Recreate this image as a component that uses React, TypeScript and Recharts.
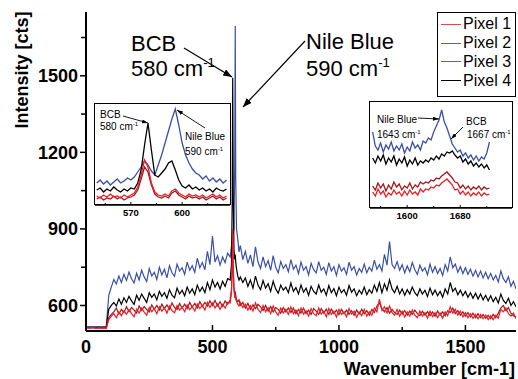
import React from 'react';
import { LineChart, Line, XAxis, YAxis, Legend } from 'recharts';

const FONT = '"Liberation Sans", Arial, Helvetica, sans-serif';

// ---- main spectrum (wavenumber in cm-1, intensity in cts) ----
const wavenumbers = [
  0, 10, 20, 30, 40, 50, 60, 70, 80,
  90, 100,
  110, 120, 130, 140, 150, 160, 170, 180, 190, 200,
  210, 220, 230, 240, 250, 260, 270, 280, 290, 300,
  310, 320, 330, 340, 350, 360, 370, 380, 390, 400,
  410, 420, 430, 440, 450, 460, 470, 480, 490, 500,
  510, 520, 530, 540, 550, 560,
  570, 575, 578, 580, 582, 585, 588, 590, 592, 595, 600, 605, 610,
  620, 630, 640, 650, 660, 670, 680, 690, 700,
  710, 720, 730, 740, 750, 760, 770, 780, 790, 800,
  810, 820, 830, 840, 850, 860, 870, 880, 890, 900,
  910, 920, 930, 940, 950, 960, 970, 980, 990, 1000,
  1010, 1020, 1030, 1040, 1050, 1060, 1070, 1080, 1090, 1100,
  1110, 1120, 1130, 1140, 1150, 1160, 1170, 1180, 1190, 1200,
  1210, 1220, 1230, 1240, 1250, 1260, 1270, 1280, 1290, 1300,
  1310, 1320, 1330, 1340, 1350, 1360, 1370, 1380, 1390, 1400,
  1410, 1420, 1430, 1440, 1450, 1460, 1470, 1480, 1490, 1500,
  1510, 1520, 1530, 1540, 1550, 1560, 1570, 1580, 1590, 1600,
  1610, 1620, 1630, 1640, 1650, 1660, 1670, 1680, 1690, 1700,
];

const pixel1 = [
  512, 511, 513, 512, 510, 512, 511, 512, 510,
  545, 558,
  568, 552, 575, 560, 580, 565, 584, 568, 556, 586,
  570, 590, 574, 562, 592, 576, 588, 568, 595, 578,
  590, 570, 598, 580, 572, 600, 582, 594, 575, 602,
  584, 596, 578, 606, 588, 600, 582, 612, 592, 610,
  590, 606, 585, 604, 590, 612,
  610, 650, 760, 900, 760, 660, 630, 640, 625, 615, 605, 598, 612,
  592, 605, 582, 600, 578, 610, 585, 572, 600,
  575, 592, 568, 598, 575, 562, 590, 570, 585, 565,
  595, 568, 582, 560, 590, 566, 580, 558, 588, 568,
  560, 590, 566, 578, 556, 588, 565, 578, 555, 585,
  565, 575, 555, 588, 566, 578, 554, 575, 560, 585,
  558, 575, 562, 590, 575, 625, 580, 595, 570, 598,
  572, 562, 585, 558, 578, 555, 575, 558, 582, 562,
  552, 578, 558, 572, 550, 578, 556, 572, 552, 570,
  550, 575, 560, 595, 570, 585, 562, 578, 555, 572,
  552, 568, 550, 565, 548, 565, 548, 562, 545, 560,
  545, 562, 550, 585, 575, 590, 568, 558, 570, 548,
];

const pixel2 = [
  516, 515, 517, 515, 516, 514, 516, 515, 517,
  640, 672,
  702, 684, 715, 690, 722, 698, 731, 705, 688, 726,
  700, 738, 712, 694, 745, 716, 730, 702, 750, 720,
  742, 708, 756, 728, 714, 762, 735, 748, 722, 770,
  738, 756, 730, 785, 748, 768, 740, 812, 760, 872,
  770, 795, 758, 790, 768, 805,
  790, 830, 860, 900, 880, 900, 1150, 1695, 1100, 900, 860, 810, 835,
  780, 812, 765, 798, 752, 830, 770, 745, 790,
  752, 776, 738, 795, 750, 728, 772, 745, 760, 732,
  780, 742, 758, 725, 770, 738, 752, 720, 765, 740,
  728, 772, 738, 750, 722, 768, 735, 752, 718, 760,
  735, 748, 722, 770, 738, 752, 720, 745, 730, 762,
  728, 750, 735, 778, 742, 760, 735, 800, 758, 850,
  760, 745, 772, 738, 760, 728, 755, 732, 768, 740,
  722, 758, 735, 748, 720, 762, 730, 752, 725, 745,
  718, 760, 735, 790, 748, 762, 730, 752, 725, 748,
  722, 742, 715, 738, 712, 735, 708, 730, 705, 725,
  700, 718, 692, 735, 705, 690, 712, 675, 695, 665,
];

const pixel3 = [
  513, 512, 512, 514, 511, 513, 512, 511, 513,
  552, 565,
  575, 590, 566, 585, 572, 595, 575, 592, 582, 570,
  598, 580, 596, 584, 575, 602, 585, 600, 582, 605,
  588, 602, 585, 610, 592, 584, 608, 590, 605, 588,
  612, 594, 608, 590, 615, 596, 612, 598, 618, 600,
  620, 598, 615, 596, 618, 605,
  622, 660, 740, 860, 740, 670, 645, 655, 640, 625, 615, 622, 600,
  612, 590, 608, 585, 602, 588, 605, 595, 580,
  600, 578, 596, 575, 592, 585, 570, 592, 575, 590,
  572, 590, 568, 585, 570, 590, 568, 582, 565, 588,
  578, 565, 588, 570, 585, 565, 586, 568, 582, 564,
  585, 568, 582, 565, 580, 562, 582, 566, 585, 568,
  580, 562, 585, 572, 598, 610, 588, 575, 592, 570,
  585, 572, 565, 582, 566, 580, 562, 578, 565, 582,
  568, 560, 578, 562, 576, 560, 575, 558, 578, 562,
  575, 560, 580, 572, 590, 568, 580, 562, 575, 558,
  572, 555, 570, 552, 568, 552, 565, 550, 562, 548,
  565, 552, 570, 590, 600, 580, 592, 570, 560, 555,
];

const pixel4 = [
  514, 515, 513, 515, 514, 516, 514, 515, 514,
  585, 600,
  612, 598, 625, 605, 630, 612, 636, 618, 604, 640,
  620, 645, 628, 612, 650, 632, 645, 622, 655, 636,
  650, 628, 662, 640, 630, 668, 645, 660, 638, 672,
  648, 665, 642, 680, 655, 672, 650, 690, 662, 700,
  672, 690, 665, 695, 675, 705,
  700, 760, 1000, 1492, 1050, 820, 780, 800, 770, 745, 715, 700, 712,
  690, 708, 675, 700, 668, 715, 680, 662, 698,
  668, 685, 655, 695, 665, 648, 680, 660, 672, 650,
  688, 655, 670, 645, 680, 652, 668, 640, 675, 655,
  645, 680, 652, 665, 640, 678, 650, 666, 638, 672,
  650, 662, 640, 678, 652, 665, 638, 660, 645, 672,
  642, 662, 648, 680, 655, 690, 650, 685, 660, 700,
  665, 650, 675, 645, 665, 640, 662, 645, 672, 650,
  638, 665, 645, 660, 635, 668, 642, 660, 638, 655,
  632, 665, 645, 690, 655, 668, 642, 660, 638, 655,
  632, 650, 628, 648, 625, 645, 622, 640, 618, 638,
  615, 632, 610, 645, 620, 608, 628, 600, 615, 595,
];

// ---- inset: 550-626 cm-1 region (arbitrary offset units) ----
const bcbWavenumbers = [
  550, 552, 554, 556, 558, 560, 562, 564, 566, 568,
  570, 572, 574, 576, 578, 580, 582, 584, 586, 588,
  590, 592, 594, 596, 598, 600, 602, 604, 606, 608,
  610, 612, 614, 616, 618, 620, 622, 624, 626,
];
const bcbPixel1 = [
  9, 7, 10, 8, 11, 8, 9, 7, 10, 8,
  10, 12, 18, 30, 45, 38, 22, 13, 10, 9,
  11, 9, 14, 16, 12, 10, 8, 11, 9, 10,
  8, 10, 7, 9, 11, 8, 10, 7, 9,
];
const bcbPixel2 = [
  22, 25, 21, 24, 20, 23, 26, 22, 24, 27,
  25, 28, 33, 38, 44, 40, 34, 30, 40, 50,
  62, 74, 86, 96, 80, 62, 50, 42, 36, 32,
  30, 26, 29, 24, 27, 23, 26, 22, 25,
];
const bcbPixel3 = [
  6, 8, 5, 7, 6, 9, 6, 8, 5, 7,
  8, 10, 15, 26, 38, 33, 20, 11, 8, 7,
  9, 7, 12, 14, 10, 8, 6, 9, 7, 8,
  6, 8, 5, 7, 9, 6, 8, 5, 7,
];
const bcbPixel4 = [
  15, 17, 13, 16, 14, 18, 15, 13, 16, 14,
  17, 16, 22, 35, 60, 82, 55, 30, 28, 32,
  36, 42, 44, 35, 25, 19, 17, 20, 16, 18,
  15, 17, 14, 16, 13, 17, 15, 14, 16,
];

// ---- inset: 1548-1724 cm-1 region ----
const nbWavenumbers = [
  1548, 1552, 1556, 1560, 1564, 1568, 1572, 1576, 1580, 1584,
  1588, 1592, 1596, 1600, 1604, 1608, 1612, 1616, 1620, 1624,
  1628, 1632, 1636, 1640, 1644, 1648, 1652, 1656, 1660, 1664,
  1668, 1672, 1676, 1680, 1684, 1688, 1692, 1696, 1700, 1704,
  1708, 1712, 1716, 1720, 1724,
];
const nbPixel1 = [
  16, 12, 19, 14, 17, 11, 15, 13, 18, 14,
  16, 12, 17, 13, 18, 14, 16, 13, 19, 16,
  19, 18, 21, 20, 23, 22, 25, 27, 29, 26,
  23, 18, 19, 14, 17, 13, 16, 12, 15, 13,
  16, 12, 15, 13, 14,
];
const nbPixel2 = [
  76, 62, 58, 65, 56, 63, 59, 66, 57, 62,
  58, 64, 55, 61, 57, 66, 60, 63, 58, 67,
  65, 70, 68, 76, 82, 88, 98, 86, 80, 72,
  64, 60, 56, 58, 52, 55, 50, 53, 48, 52,
  47, 51, 49, 55, 66,
];
const nbPixel3 = [
  22, 18, 25, 20, 24, 17, 23, 19, 26, 21,
  24, 18, 22, 20, 25, 19, 23, 21, 26, 24,
  26, 25, 28, 27, 30, 29, 32, 34, 36, 33,
  30, 26, 25, 20, 23, 19, 22, 18, 21, 19,
  22, 18, 21, 19, 20,
];
const nbPixel4 = [
  50, 45, 52, 47, 53, 44, 50, 46, 52, 43,
  49, 45, 51, 42, 48, 44, 50, 43, 47, 45,
  48, 46, 50, 48, 52, 49, 54, 52, 56, 55,
  57, 53, 50, 52, 46, 49, 44, 47, 42, 45,
  41, 44, 40, 43, 38,
];

const seriesKeys = ['p1', 'p2', 'p3', 'p4'];
const seriesNames = ['Pixel 1', 'Pixel 2', 'Pixel 3', 'Pixel 4'];
const seriesColors = ['#ec1c24', '#3b4fa6', '#a3171c', '#000000'];
const legendColors = ['#e04848', '#5560b0', '#c84040', '#000000'];
const drawOrder = [1, 3, 2, 0];

const mainTicksX = [0, 250, 500, 750, 1000, 1250, 1500];
const mainTicksY = [600, 750, 900, 1050, 1200, 1350, 1500, 1650];
const bcbTicks = [555, 570, 585, 600, 615];
const nbTicks = [1560, 1600, 1640, 1680, 1720];

const mainData = wavenumbers.map((wn, i) => ({ wn, p1: pixel1[i], p2: pixel2[i], p3: pixel3[i], p4: pixel4[i] }));
const bcbData = bcbWavenumbers.map((wn, i) => ({ wn, p1: bcbPixel1[i], p2: bcbPixel2[i], p3: bcbPixel3[i], p4: bcbPixel4[i] }));
const nbData = nbWavenumbers.map((wn, i) => ({ wn, p1: nbPixel1[i], p2: nbPixel2[i], p3: nbPixel3[i], p4: nbPixel4[i] }));

const frame = { stroke: '#000', strokeWidth: 2 };

const MainXTick = (props: any) => {
  const { x, y, payload } = props;
  const major = payload.value % 500 === 0;
  return (
    <g>
      <line x1={x} x2={x} y1={y} y2={y - (major ? 6 : 4)} stroke="#000" strokeWidth={1.5} />
      {major && (
        <text x={x} y={y + 22} textAnchor="middle" fontSize={18} fontWeight="bold" fontFamily={FONT} fill="#000">
          {payload.value}
        </text>
      )}
    </g>
  );
};

const MainYTick = (props: any) => {
  const { x, y, payload } = props;
  const major = payload.value % 300 === 0;
  return (
    <g>
      <line x1={x - (major ? 6 : 5)} x2={x} y1={y} y2={y} stroke="#000" strokeWidth={1.5} />
      {major && (
        <text x={x - 8} y={y + 6.5} textAnchor="end" fontSize={18} fontWeight="bold" fontFamily={FONT} fill="#000">
          {payload.value}
        </text>
      )}
    </g>
  );
};

const makeInsetTick = (labelled: number[]) => (props: any) => {
  const { x, y, payload } = props;
  const major = labelled.includes(payload.value);
  return (
    <g>
      <line x1={x} x2={x} y1={y} y2={y - (major ? 3 : 2)} stroke="#000" strokeWidth={1} />
      {major && (
        <text x={x} y={y + 11} textAnchor="middle" fontSize={9.5} fontWeight="bold" fontFamily={FONT} fill="#000">
          {payload.value}
        </text>
      )}
    </g>
  );
};

const LegendBox = () => (
  <div
    style={{
      width: 79,
      height: 85,
      boxSizing: 'border-box',
      border: '1.5px solid #000',
      background: '#fff',
      padding: '2px 0 0 3px',
      fontFamily: FONT,
      fontSize: 16,
      color: '#000',
    }}
  >
    {seriesNames.map((n, i) => (
      <div key={n} style={{ display: 'flex', alignItems: 'center', height: 18.8, whiteSpace: 'nowrap' }}>
        <span style={{ display: 'inline-block', width: 20, borderTop: `1.5px solid ${legendColors[i]}`, marginRight: 2 }} />
        <span style={{ lineHeight: '16px' }}>{n}</span>
      </div>
    ))}
  </div>
);

type InsetProps = {
  data: any[];
  left: number;
  top: number;
  width: number;
  height: number;
  xDomain: [number, number];
  yDomain: [number, number];
  ticks: number[];
  labelled: number[];
};

const Inset = ({ data, left, top, width, height, xDomain, yDomain, ticks, labelled }: InsetProps) => {
  const box = { stroke: '#000', strokeWidth: 1.5 };
  return (
    <div style={{ position: 'absolute', left, top, width, height, background: '#fff' }}>
      <LineChart width={width} height={height} data={data} margin={{ top: 1, right: 1, left: 1, bottom: 0 }}>
        <XAxis
          dataKey="wn"
          type="number"
          domain={xDomain}
          ticks={ticks}
          interval={0}
          tickSize={0}
          tickMargin={0}
          tickLine={false}
          tick={makeInsetTick(labelled)}
          height={16}
          axisLine={box}
          allowDataOverflow
        />
        <YAxis type="number" domain={yDomain} width={0} tick={false} tickLine={false} axisLine={false} allowDataOverflow />
        {drawOrder.map((i) => (
          <Line
            key={seriesKeys[i]}
            dataKey={seriesKeys[i]}
            name={seriesNames[i]}
            stroke={seriesColors[i]}
            strokeWidth={1.3}
            dot={false}
            isAnimationActive={false}
          />
        ))}
      </LineChart>
      {/* inset frame around the plotting area */}
      <div
        style={{
          position: 'absolute',
          left: 0.25,
          top: 0.25,
          width: width - 0.5,
          height: height - 16.5,
          boxSizing: 'border-box',
          border: '1.5px solid #000',
          pointerEvents: 'none',
        }}
      />
    </div>
  );
};

const Wn = ({ x, y, value, size }: { x: number; y: number; value: string; size: number }) => (
  <text x={x} y={y} fontSize={size} fontFamily={FONT} fill="#000">
    {value} cm
    <tspan fontSize={size * 0.6} dy={-size * 0.4}>-1</tspan>
  </text>
);

const Label = ({ x, y, value, size }: { x: number; y: number; value: string; size: number }) => (
  <text x={x} y={y} fontSize={size} fontFamily={FONT} fill="#000">
    {value}
  </text>
);

const App: React.FC = () => {
  return (
    <div style={{ position: 'absolute', left: 0, top: 0, width: 518, height: 379, background: '#fff' }}>
      <LineChart width={518} height={379} data={mainData} margin={{ top: 12, right: 2, bottom: 0, left: 0 }}>
        <XAxis
          dataKey="wn"
          type="number"
          domain={[0, 1700]}
          ticks={mainTicksX}
          interval={0}
          tickSize={0}
          tickMargin={0}
          tickLine={false}
          tick={(p: any) => <MainXTick {...p} />}
          height={48}
          axisLine={frame}
          allowDataOverflow
        />
        <XAxis xAxisId="top" orientation="top" type="number" domain={[0, 1700]} height={0} tick={false} tickLine={false} axisLine={frame} />
        <YAxis
          type="number"
          domain={[500, 1750]}
          ticks={mainTicksY}
          interval={0}
          width={86}
          tickSize={0}
          tickMargin={0}
          tickLine={false}
          tick={(p: any) => <MainYTick {...p} />}
          axisLine={frame}
          allowDataOverflow
        />
        <YAxis yAxisId="right" orientation="right" type="number" domain={[500, 1750]} width={0} tick={false} tickLine={false} axisLine={frame} />
        <Legend
          layout="vertical"
          align="center"
          verticalAlign="middle"
          wrapperStyle={{ position: 'absolute', left: 437, top: 12, width: 79, height: 85 }}
          content={() => <LegendBox />}
        />
        {drawOrder.map((i) => (
          <Line
            key={seriesKeys[i]}
            dataKey={seriesKeys[i]}
            name={seriesNames[i]}
            stroke={seriesColors[i]}
            strokeWidth={1.2}
            dot={false}
            isAnimationActive={false}
          />
        ))}
      </LineChart>

      <Inset
        data={bcbData}
        left={94}
        top={103}
        width={137}
        height={118}
        xDomain={[549, 628]}
        yDomain={[0, 101]}
        ticks={bcbTicks}
        labelled={[570, 600]}
      />
      <Inset
        data={nbData}
        left={369}
        top={101}
        width={144}
        height={123}
        xDomain={[1544, 1758]}
        yDomain={[0, 106]}
        ticks={nbTicks}
        labelled={[1600, 1680]}
      />

      <svg width={518} height={379} style={{ position: 'absolute', left: 0, top: 0, pointerEvents: 'none' }}>
        <defs>
          <marker id="arrowBig" markerWidth="9" markerHeight="7" refX="9" refY="3.5" orient="auto" markerUnits="userSpaceOnUse">
            <path d="M0,0 L9,3.5 L0,7 z" fill="#000" />
          </marker>
          <marker id="arrowSmall" markerWidth="6" markerHeight="4" refX="6" refY="2" orient="auto" markerUnits="userSpaceOnUse">
            <path d="M0,0 L6,2 L0,4 z" fill="#000" />
          </marker>
        </defs>

        {/* axis titles */}
        <text x={515} y={375} textAnchor="end" fontSize={18} fontWeight="bold" fontFamily={FONT} fill="#000">
          Wavenumber [cm-1]
        </text>
        <text
          x={28}
          y={70}
          transform="rotate(-90 28 70)"
          textAnchor="middle"
          fontSize={18}
          fontWeight="bold"
          fontFamily={FONT}
          fill="#000"
        >
          Intensity [cts]
        </text>

        {/* main peak annotations */}
        <Label x={131} y={51} value="BCB" size={22} />
        <Wn x={131} y={76} value="580" size={22} />
        <line x1={184} y1={48} x2={232} y2={77} stroke="#000" strokeWidth={1.2} markerEnd="url(#arrowBig)" />
        <Label x={306} y={49} value="Nile Blue" size={22} />
        <Wn x={306} y={76} value="590" size={22} />
        <line x1={305} y1={41} x2={243} y2={107} stroke="#000" strokeWidth={1.2} markerEnd="url(#arrowBig)" />

        {/* left inset annotations */}
        <Label x={100} y={118} value="BCB" size={10} />
        <Wn x={100} y={130} value="580" size={10} />
        <line x1={123} y1={116} x2={148} y2={123} stroke="#000" strokeWidth={0.9} markerEnd="url(#arrowSmall)" />
        <Label x={185} y={140} value="Nile Blue" size={10} />
        <Wn x={185} y={155} value="590" size={10} />
        <line x1={205} y1={128} x2={177} y2={110} stroke="#000" strokeWidth={0.9} markerEnd="url(#arrowSmall)" />

        {/* right inset annotations */}
        <Label x={377} y={123} value="Nile Blue" size={10} />
        <Wn x={377} y={138} value="1643" size={10} />
        <line x1={418} y1={118} x2={439} y2={119} stroke="#000" strokeWidth={0.9} markerEnd="url(#arrowSmall)" />
        <Label x={466} y={125} value="BCB" size={10} />
        <Wn x={467} y={138} value="1667" size={10} />
        <line x1={463} y1={127} x2={451} y2={139} stroke="#000" strokeWidth={0.9} markerEnd="url(#arrowSmall)" />
      </svg>
    </div>
  );
};

export default App;
